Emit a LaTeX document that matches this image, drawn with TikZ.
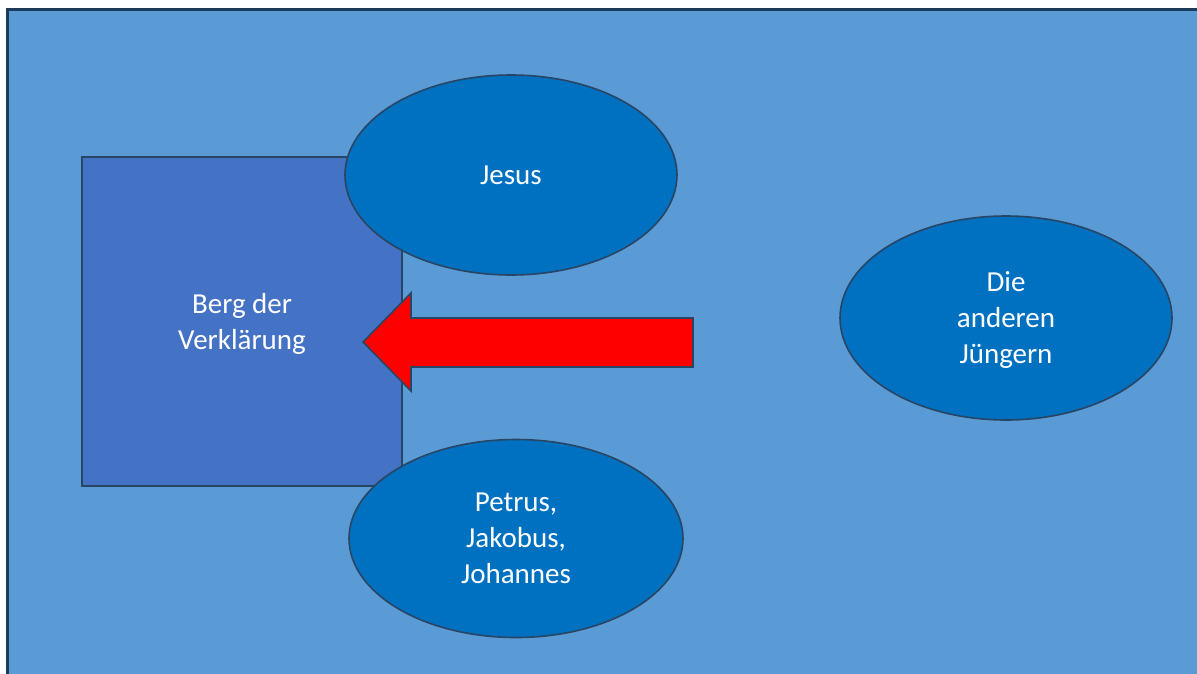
\documentclass[tikz,border=0pt]{standalone}
\usepackage{fontspec}
\setmainfont{Carlito}
\usepackage{tikz}
\usetikzlibrary{shapes.geometric, positioning}
\definecolor{slideblue}{RGB}{91, 155, 213}
\definecolor{mountblue}{RGB}{68, 114, 196}
\definecolor{groupblue}{RGB}{0, 112, 192}
\definecolor{edgedark}{RGB}{40, 70, 100}
\definecolor{frameedge}{RGB}{30, 58, 90}
\definecolor{arrowred}{RGB}{255, 0, 0}
\tikzset{
  mountbox/.style={draw=edgedark, line width=1.6pt, fill=mountblue, text=white,
    minimum width=320pt, minimum height=329pt, align=center, inner sep=0pt},
  groupoval/.style={ellipse, draw=edgedark, line width=1.6pt, fill=groupblue, text=white,
    minimum width=332pt, minimum height=200pt, align=center, inner sep=0pt},
  multiline/.style={text depth=-6pt},
}
\begin{document}
\begin{tikzpicture}[x=1pt, y=-1pt, font=\fontsize{29}{36}\selectfont]
    \useasboundingbox (0,0) rectangle (1197,673);

    % Background
    \draw[fill=slideblue, draw=frameedge, line width=3pt] (7.5,9) rectangle (1210,690);

    % Mountain
    \node[mountbox, multiline] (berg) at (242,321.5) {Berg der\\Verklärung};

    % Groups
    \node[groupoval] (jesus) at (511,175) {Jesus};
    \node[groupoval, multiline, minimum width=334pt, minimum height=198pt] (drei) at (516,538.5) {Petrus,\\Jakobus,\\Johannes};
    \node[groupoval, multiline, minimum height=204pt] (andere) at (1006,318) {Die\\anderen\\Jüngern};

    % Arrow
    \draw[fill=arrowred, draw=edgedark, line width=1.6pt]
      (363,342) -- (411,293) -- (411,318) -- (693,318) -- (693,367)
      -- (411,367) -- (411,391) -- cycle;
\end{tikzpicture}
\end{document}
